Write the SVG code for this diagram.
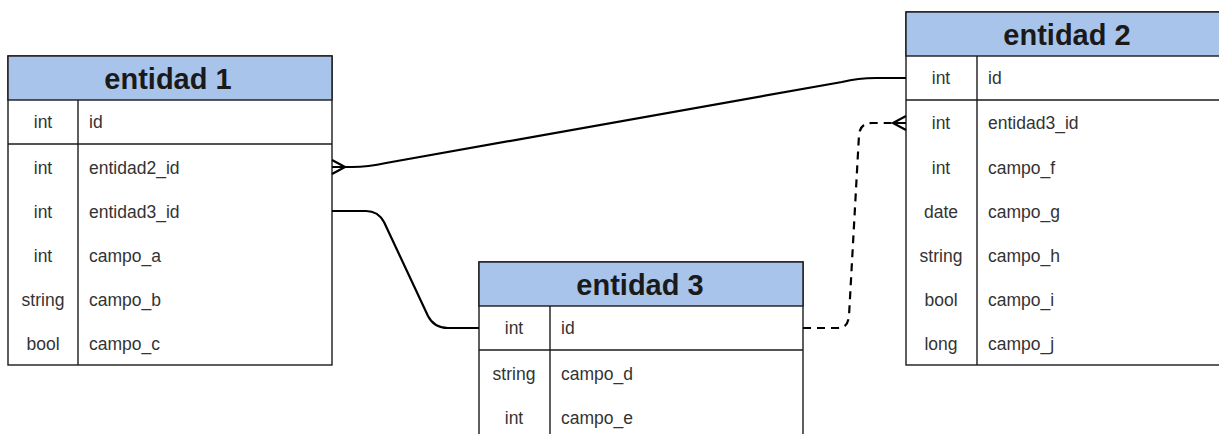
<svg xmlns="http://www.w3.org/2000/svg" width="1219" height="434" viewBox="0 0 1219 434">
  <style>
    .box { fill: #ffffff; stroke: #1a1a1a; stroke-width: 1.4; }
    .head { fill: #a9c4eb; stroke: #1a1a1a; stroke-width: 1.4; }
    .sep { stroke: #1a1a1a; stroke-width: 1.4; fill: none; }
    .title { font-family: "Liberation Sans", Arial, sans-serif; font-weight: bold; font-size: 29px; fill: #1a1a1a; text-anchor: middle; }
    .type { font-family: "Liberation Sans", Arial, sans-serif; font-size: 17.5px; fill: #333333; text-anchor: middle; }
    .name { font-family: "Liberation Sans", Arial, sans-serif; font-size: 17.5px; fill: #333333; }
    .rel { fill: none; stroke: #000000; stroke-width: 2.2; stroke-linejoin: round; }
    .dash { stroke-dasharray: 8 6; }
  </style>

  <!-- entidad 1 -->
  <g id="entidad1">
    <rect class="box" x="8" y="56" width="324" height="309"/>
    <rect class="head" x="8" y="56" width="324" height="44"/>
    <line class="sep" x1="8" y1="144" x2="332" y2="144"/>
    <line class="sep" x1="78" y1="100" x2="78" y2="365"/>
    <text class="title" x="168" y="89">entidad 1</text>
    <text class="type" x="43" y="128">int</text><text class="name" x="89" y="128">id</text>
    <text class="type" x="43" y="174">int</text><text class="name" x="89" y="174">entidad2_id</text>
    <text class="type" x="43" y="218">int</text><text class="name" x="89" y="218">entidad3_id</text>
    <text class="type" x="43" y="262">int</text><text class="name" x="89" y="262">campo_a</text>
    <text class="type" x="43" y="306">string</text><text class="name" x="89" y="306">campo_b</text>
    <text class="type" x="43" y="350">bool</text><text class="name" x="89" y="350">campo_c</text>
  </g>

  <!-- entidad 2 -->
  <g id="entidad2">
    <rect class="box" x="906" y="12" width="324" height="353"/>
    <rect class="head" x="906" y="12" width="324" height="44"/>
    <line class="sep" x1="906" y1="100" x2="1230" y2="100"/>
    <line class="sep" x1="977" y1="56" x2="977" y2="365"/>
    <text class="title" x="1067" y="45">entidad 2</text>
    <text class="type" x="941" y="84">int</text><text class="name" x="988" y="84">id</text>
    <text class="type" x="941" y="129">int</text><text class="name" x="988" y="129">entidad3_id</text>
    <text class="type" x="941" y="174">int</text><text class="name" x="988" y="174">campo_f</text>
    <text class="type" x="941" y="218">date</text><text class="name" x="988" y="218">campo_g</text>
    <text class="type" x="941" y="262">string</text><text class="name" x="988" y="262">campo_h</text>
    <text class="type" x="941" y="306">bool</text><text class="name" x="988" y="306">campo_i</text>
    <text class="type" x="941" y="350">long</text><text class="name" x="988" y="350">campo_j</text>
  </g>

  <!-- entidad 3 -->
  <g id="entidad3">
    <rect class="box" x="479" y="262" width="324" height="180"/>
    <rect class="head" x="479" y="262" width="324" height="44"/>
    <line class="sep" x1="479" y1="350" x2="803" y2="350"/>
    <line class="sep" x1="550" y1="306" x2="550" y2="442"/>
    <text class="title" x="640" y="295">entidad 3</text>
    <text class="type" x="514" y="334">int</text><text class="name" x="561" y="334">id</text>
    <text class="type" x="514" y="380">string</text><text class="name" x="561" y="380">campo_d</text>
    <text class="type" x="514" y="424">int</text><text class="name" x="561" y="424">campo_e</text>
  </g>

  <!-- relations -->
  <g id="connectors">
    <!-- entidad1.entidad2_id -> entidad2.id -->
    <path class="rel" d="M332,167 H352 Q368,167 386,163 L842,82 Q858,78 876,78 H906"/>
    <path class="rel" d="M332,160 L345,167 L332,174 M332,167 H345" stroke-width="1.6"/>
    <!-- entidad1.entidad3_id -> entidad3.id -->
    <path class="rel" d="M332,211 H366 Q378,211 384,222 L428,316 Q434,328 448,328 H479"/>
    <!-- entidad3.id -> entidad2.entidad3_id -->
    <path class="rel dash" d="M803,328 H838 Q848,328 849,316 L859,135 Q860,123 872,123 H893"/>
    <path class="rel" d="M906,116 L893,123 L906,130 M893,123 H906" stroke-width="1.6"/>
  </g>
</svg>
